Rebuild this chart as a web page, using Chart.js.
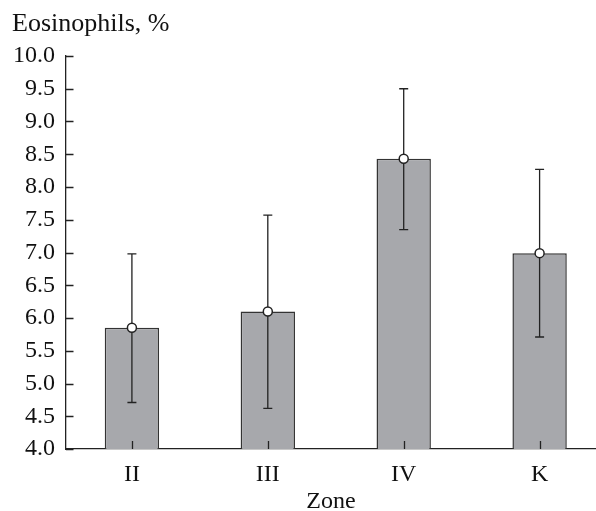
<!DOCTYPE html>
<html>
<head>
<meta charset="utf-8">
<script src="https://cdn.jsdelivr.net/npm/chart.js@4.4.0/dist/chart.umd.min.js"></script>
<style>
html,body{margin:0;padding:0;background:#fff;overflow:hidden;}
#wrap{width:596px;height:511px;position:relative;}
</style>
</head>
<body>
<div id="wrap"><canvas id="c"></canvas></div>
<script>
const categories = ['II', 'III', 'IV', 'K'];
const positions = [1, 2, 3, 4];
const means = [5.85, 6.10, 8.43, 6.99];
const upper = [6.98, 7.57, 9.50, 8.27];
const lower = [4.71, 4.62, 7.35, 5.71];
const yTicks = [4.0, 4.5, 5.0, 5.5, 6.0, 6.5, 7.0, 7.5, 8.0, 8.5, 9.0, 9.5, 10.0];

const FONT = 'Liberation Serif, Times New Roman, serif';
const INK = '#222222';

const errorPlugin = {
  id: 'errbars',
  beforeDatasetDraw(chart, args) {
    if (args.index !== 1) return;
    const ctx = chart.ctx, x = chart.scales.x, y = chart.scales.y;
    ctx.save();
    ctx.strokeStyle = INK;
    ctx.lineWidth = 1.3;
    positions.forEach((p, i) => {
      const px = x.getPixelForValue(p);
      const yt = y.getPixelForValue(upper[i]);
      const yb = y.getPixelForValue(lower[i]);
      ctx.beginPath();
      ctx.moveTo(px, yt); ctx.lineTo(px, yb);
      ctx.moveTo(px - 4.5, yt); ctx.lineTo(px + 4.5, yt);
      ctx.moveTo(px - 4.5, yb); ctx.lineTo(px + 4.5, yb);
      ctx.stroke();
    });
    ctx.restore();
  },
  afterDraw(chart) {
    const ctx = chart.ctx, x = chart.scales.x, y = chart.scales.y;
    const left = chart.chartArea.left, bottom = chart.chartArea.bottom;
    ctx.save();
    ctx.strokeStyle = INK;
    ctx.lineWidth = 1.3;
    ctx.beginPath();
    yTicks.forEach(v => {
      const py = Math.round(y.getPixelForValue(v)) + 0.5;
      ctx.moveTo(left, py); ctx.lineTo(left + 7.5, py);
    });
    positions.forEach(p => {
      const px = Math.round(x.getPixelForValue(p)) + 0.5;
      ctx.moveTo(px, bottom); ctx.lineTo(px, bottom - 8);
    });
    ctx.stroke();
    ctx.restore();
  }
};

new Chart(document.getElementById('c'), {
  type: 'bar',
  data: {
    datasets: [
      {
        type: 'bar',
        data: positions.map((p, i) => ({x: p, y: means[i]})),
        backgroundColor: '#a7a8ac',
        borderColor: '#333333',
        borderWidth: 1.5,
        borderSkipped: 'bottom',
        categoryPercentage: 1.0,
        barPercentage: 0.4,
        order: 2
      },
      {
        type: 'scatter',
        data: positions.map((p, i) => ({x: p, y: means[i]})),
        pointRadius: 4.5,
        pointBackgroundColor: '#ffffff',
        pointBorderColor: INK,
        pointBorderWidth: 1.5,
        showLine: false,
        order: 1
      }
    ]
  },
  options: {
    responsive: true,
    maintainAspectRatio: false,
    animation: false,
    devicePixelRatio: 1,
    layout: {autoPadding: false, padding: {left: 12, right: 0, top: 0, bottom: 0}},
    plugins: {
      legend: {display: false},
      tooltip: {enabled: false},
      title: {
        display: true,
        text: 'Eosinophils, %',
        align: 'start',
        color: '#111',
        font: {family: FONT, size: 26, weight: 'normal', lineHeight: 1.0},
        padding: {top: 11, bottom: 19}
      }
    },
    scales: {
      x: {
        type: 'linear',
        min: 0.515,
        max: 4.415,
        offset: false,
        afterBuildTicks(scale) { scale.ticks = positions.map(v => ({value: v})); },
        afterFit(scale) { scale.height = 62; },
        grid: {display: false, drawTicks: false},
        border: {display: true, color: INK, width: 1.3},
        ticks: {
          color: '#111',
          font: {family: FONT, size: 24, lineHeight: 1.0},
          padding: 14,
          maxRotation: 0,
          autoSkip: false,
          callback: (v) => { const i = positions.indexOf(v); return i >= 0 ? categories[i] : ''; }
        },
        title: {
          display: true,
          text: 'Zone',
          color: '#111',
          font: {family: FONT, size: 24, lineHeight: 0.75},
          padding: {top: 0, bottom: 0}
        }
      },
      y: {
        min: 4,
        max: 10,
        afterBuildTicks(scale) { scale.ticks = yTicks.map(v => ({value: v})); },
        afterFit(scale) { scale.width = 54; },
        grid: {display: false, drawTicks: false},
        border: {display: true, color: INK, width: 1.3},
        ticks: {
          color: '#111',
          font: {family: FONT, size: 24},
          padding: 11,
          autoSkip: false,
          callback: (v) => Number(v).toFixed(1)
        }
      }
    }
  },
  plugins: [errorPlugin]
});
</script>
</body>
</html>
